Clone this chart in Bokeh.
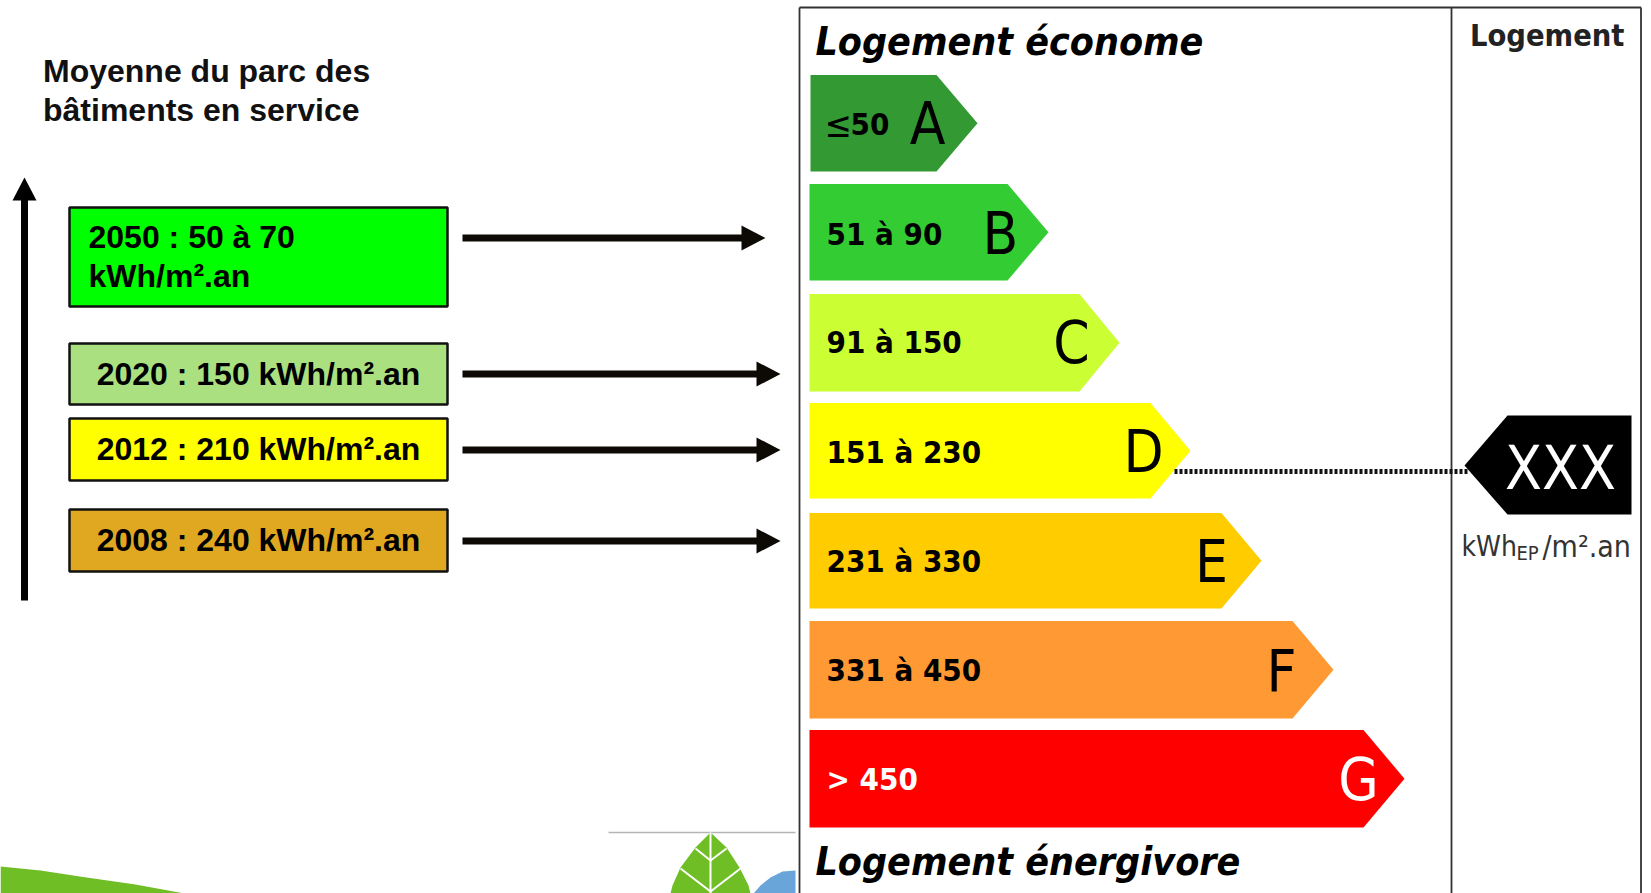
from bokeh.plotting import figure
from bokeh.models import Range1d
from bokeh.core.properties import value
from bokeh.embed import file_html
from bokeh.resources import INLINE

# Energy classes
classes = ["A", "B", "C", "D", "E", "F", "G"]
ranges_ = ["50", "51 à 90", "91 à 150", "151 à 230", "231 à 330", "331 à 450", "> 450"]
class_colors = ["#339933", "#33cc33", "#ccff33", "#ffff00", "#ffcc00", "#ff9933", "#ff0000"]
text_colors = ["#000000"] * 6 + ["#ffffff"]
bar_top = [74.5, 183.5, 293.5, 402.5, 512.5, 620.5, 729.5]
bar_bottom = [171, 280, 391, 498, 608, 718, 827]
bar_left = [810, 809, 809, 809, 809, 809, 809]
bar_end = [936, 1007, 1079, 1150, 1221, 1292, 1363]
bar_tip = [977, 1048, 1119, 1190, 1261, 1333, 1404]
letter_x = [927, 1000, 1071, 1143, 1211, 1281, 1358]
letter_y = [123, 233, 342, 451, 561, 671, 779]
range_y = [123, 233, 341, 451, 560, 669, 778]

# Reference boxes on the left
box_labels = [["2050 : 50 à 70", "kWh/m².an"], ["2020 : 150 kWh/m².an"],
              ["2012 : 210 kWh/m².an"], ["2008 : 240 kWh/m².an"]]
box_colors = ["#00ff00", "#aae080", "#ffff00", "#e0a820"]
box_top = [207, 343, 418, 509]
box_bottom = [306, 404, 480, 571]
arrow_y = [237.5, 373.5, 449.5, 540.5]
arrow_tip = [765, 780, 780, 780]

W, H = 1651, 893
p = figure(width=W, height=H, x_range=Range1d(0, W), y_range=Range1d(H, 0),
           toolbar_location=None, output_backend="svg", min_border=0,
           background_fill_color="white", border_fill_color="white", outline_line_color=None)
p.xaxis.visible = False
p.yaxis.visible = False
p.xgrid.visible = False
p.ygrid.visible = False


def label(x, y, s, size, font="DejaVu Sans Condensed", style="normal", color="#000000", align="left"):
    p.text(x=[x], y=[y], text=[s], text_font=value(font), text_font_size=value(f"{size}px"),
           text_font_style=style, text_color=color, text_align=align, text_baseline="middle")


ARIAL = "Liberation Sans"

# Decorations at the bottom
p.patches(xs=[[0, 40, 86, 135, 184, 0]], ys=[[866, 870, 877, 884, 893, 893]],
          fill_color="#6fbe25", line_color=None)
p.line([608, 795], [832, 832], line_color="#b5b5b5", line_width=1.5)
p.patches(xs=[[710, 695, 680, 672, 670, 750, 748, 739, 726]], ys=[[832, 847, 867, 885, 893, 893, 885, 867, 847]],
          fill_color="#6fbe25", line_color=None)
p.multi_line(xs=[[710, 710], [710, 695], [710, 726], [710, 680], [710, 740]],
             ys=[[832, 893], [860, 848], [860, 848], [891, 868], [891, 868]],
             line_color="white", line_width=2)
p.patches(xs=[[795, 782, 770, 760, 753, 795]], ys=[[870, 871, 877, 885, 893, 893]],
          fill_color="#6aa5d9", line_color=None)

# Left heading
label(42.5, 70, "Moyenne du parc des", 32, ARIAL, "bold", "#111111")
label(42.5, 109, "bâtiments en service", 32, ARIAL, "bold", "#111111")

# Vertical arrow
p.segment([24], [600], [24], [195], line_color="black", line_width=7)
p.patches(xs=[[12, 24, 36]], ys=[[200, 177, 200]], fill_color="black", line_color=None)

# Boxes and arrows
for i, rows in enumerate(box_labels):
    p.quad(left=[69], right=[447], top=[box_top[i]], bottom=[box_bottom[i]],
           fill_color=box_colors[i], line_color="#111111", line_width=2.5)
    if len(rows) == 2:
        label(88, 236, rows[0], 32, ARIAL, "bold")
        label(88, 275, rows[1], 32, ARIAL, "bold")
    else:
        label(258, (box_top[i] + box_bottom[i]) / 2 - 0.5, rows[0], 32, ARIAL, "bold", align="center")
    p.segment([462], [arrow_y[i]], [arrow_tip[i] - 22], [arrow_y[i]], line_color="#0d0a05", line_width=7)
    p.patches(xs=[[arrow_tip[i] - 24, arrow_tip[i], arrow_tip[i] - 24]],
              ys=[[arrow_y[i] - 12.5, arrow_y[i], arrow_y[i] + 12.5]],
              fill_color="#0d0a05", line_color=None)

# Panel frame
p.multi_line(xs=[[799, 1640.5], [799, 799], [1451, 1451], [1640.5, 1640.5]],
             ys=[[7, 7], [7, 893], [7, 893], [7, 893]],
             line_color="#333333", line_width=1.8)
label(815, 41, "Logement économe", 39, style="bold italic")
label(815, 861, "Logement énergivore", 39, style="bold italic")
label(1469.5, 35, "Logement", 30.5, style="bold", color="#222222")

# Class arrows
for i, c in enumerate(classes):
    mid = (bar_top[i] + bar_bottom[i]) / 2
    p.patches(xs=[[bar_left[i], bar_end[i], bar_tip[i], bar_end[i], bar_left[i]]],
              ys=[[bar_top[i], bar_top[i], mid, bar_bottom[i], bar_bottom[i]]],
              fill_color=class_colors[i], line_color=None)
    label(letter_x[i], letter_y[i], c, 58, color=text_colors[i], align="center")
    if i == 0:
        label(824, range_y[i] + 1, "≤", 36)
        label(850, range_y[i], ranges_[i], 31, style="bold")
    else:
        label(826, range_y[i], ranges_[i], 31, style="bold", color=text_colors[i])

# Dotted link and marker
p.line([1174, 1468], [471, 471], line_color="#111111", line_width=5, line_dash="3 2")
p.patches(xs=[[1464, 1507, 1631, 1631, 1507]], ys=[[465, 415, 415, 514, 514]],
          fill_color="black", line_color=None)
label(1560, 467, "XXX", 60, color="white", align="center")

# Unit
label(1461, 546, "kWh", 28, color="#333333")
label(1516, 552, "EP", 20, color="#333333")
label(1542, 546, "/m².an", 30, color="#333333")

open("out.html", "w").write(file_html(p, INLINE))
